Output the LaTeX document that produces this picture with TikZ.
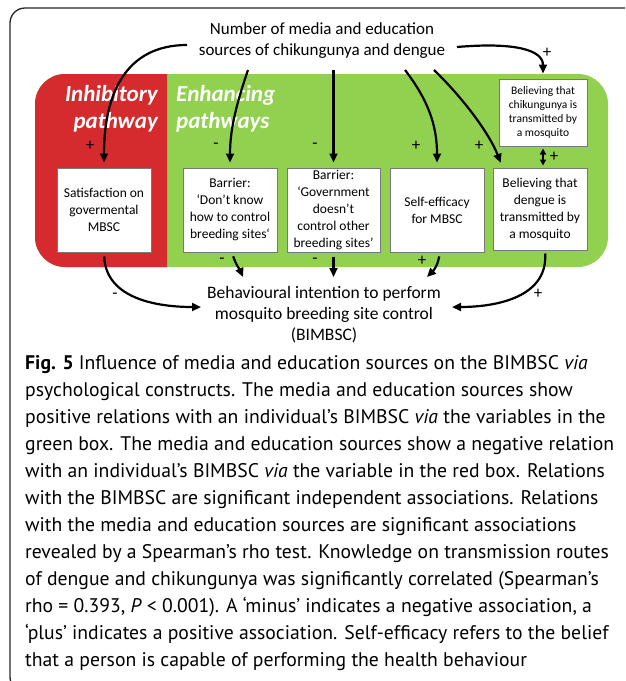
\documentclass[tikz,border=0pt]{standalone}
\usepackage{fontspec}
\setmainfont{Carlito}
\newfontfamily\capfont{PT Sans}
\usetikzlibrary{arrows.meta, positioning, calc}
\definecolor{inhibred}{RGB}{213,43,46}
\definecolor{enhgreen}{RGB}{146,208,80}
\definecolor{boxgray}{RGB}{120,120,120}
\newlength\caplinewd
\tikzset{
  construct/.style={draw=boxgray, line width=1pt, fill=white, align=center, inner sep=1pt,
    minimum width=94pt, minimum height=84pt, font=\fontsize{13.5}{17}\selectfont},
  link/.style={-{Triangle[length=9pt, width=8pt]}, line width=2.2pt},
  sign/.style={font=\fontsize{17}{17}\selectfont, inner sep=0pt},
  pathlabel/.style={text=white, inner sep=0pt, font=\fontsize{23}{27}\selectfont\bfseries\itshape}
}

\begin{document}
% taille de la legende : la ligne la plus longue fait 589pt
\settowidth\caplinewd{\capfont\fontsize{10}{12}\selectfont green box. The media and education sources show a negative relation}
\pgfmathsetmacro\capsize{5890/\caplinewd}
\begin{tikzpicture}[x=1pt, y=-1pt]
    \useasboundingbox (0,0) rectangle (625,681);
    \clip (0,0) rectangle (625,681);

    % === CADRE ===
    \draw[line width=1.3pt, draw=black!85, rounded corners=15pt] (10,8) rectangle (660,692);

    % === FOND VERT / ROUGE ===
    \fill[enhgreen, rounded corners=30pt] (35,74) rectangle (608,267);
    \begin{scope}
        \clip (0,0) rectangle (167,681);
        \fill[inhibred, rounded corners=30pt] (35,74) rectangle (608,267);
    \end{scope}

    \node[pathlabel, align=right, anchor=north east] (inhib) at (158,85) {Inhibitory\\pathway};
    \node[pathlabel, align=left, anchor=north west] (enh) at (176,85) {Enhancing\\pathways};

    % === SOURCE ===
    \node[font=\fontsize{17}{21}\selectfont, align=center, inner sep=0pt] (src) at (322,41)
        {Number of media and education\\sources of chikungunya and dengue};

    % === CONSTRUITS ===
    \node[construct] (sat) at (104,210) {Satisfaction on\\govermental\\MBSC};
    \node[construct] (bar1) at (230,210) {Barrier:\\‘Don’t know\\how to control\\breeding sites‘};
    \node[construct, minimum width=93pt] (bar2) at (333.5,210) {Barrier:\\‘Government\\doesn’t\\control other\\breeding sites’};
    \node[construct] (self) at (437,210) {Self-efficacy\\for MBSC};
    \node[construct, minimum height=82pt] (dengue) at (540,209) {Believing that\\dengue is\\transmitted by\\a mosquito};
    \node[construct, minimum width=88pt, minimum height=67pt, font=\fontsize{11.5}{14}\selectfont] (chik) at (543,112.5)
        {Believing that\\chikungunya is\\transmitted by\\a mosquito};

    % === INTENTION ===
    \node[font=\fontsize{17.5}{21}\selectfont, align=center, inner sep=0pt] (bim) at (324,315)
        {Behavioural intention to perform\\mosquito breeding site control\\(BIMBSC)};

    % points de depart / d'arrivee
    \coordinate (s1) at (187,45);
    \coordinate (s2) at (248,70);
    \coordinate (s3) at (333.5,70);
    \coordinate (s4) at (405,70);
    \coordinate (s5) at (434,70);
    \coordinate (s6) at (457,47);
    \coordinate (t1) at (201,307);
    \coordinate (t2) at (243,277);
    \coordinate (t3) at (333.5,277);
    \coordinate (t4) at (427,277);
    \coordinate (t5) at (452,307);

    % === FLECHES DU HAUT ===
    \draw[link, shorten >=5pt] (s1) .. controls (125,45) and (104,95) .. (sat.north);
    \draw[link, shorten >=5pt] (s2) .. controls (236,105) and (230,130) .. (bar1.north);
    \draw[link, shorten >=5pt] (s3) -- (bar2.north);
    \draw[link, shorten >=5pt] (s4) .. controls (428,100) and (437,125) .. (self.north);
    \draw[link, shorten >=5pt] (s5) .. controls (465,100) and (490,135) .. ([xshift=10pt]dengue.north west);
    \draw[link, shorten >=5pt] (s6) .. controls (515,42) and (543,50) .. (chik.north);
    \draw[{Triangle[length=6pt, width=6pt]}-{Triangle[length=6pt, width=6pt]}, line width=1.8pt,
        shorten <=2pt, shorten >=2pt] (chik.south) -- (chik.south |- dengue.north);

    % === FLECHES DU BAS ===
    \draw[link, shorten <=4pt] (sat.south) .. controls (106,300) and (160,307) .. (t1);
    \draw[link, shorten <=4pt] ([xshift=2pt]bar1.south) .. controls (236,265) and (240,270) .. (t2);
    \draw[link, shorten <=4pt] (bar2.south) -- (t3);
    \draw[link, shorten <=4pt] ([xshift=3pt]self.south) .. controls (437,268) and (432,272) .. (t4);
    \draw[link, shorten <=3pt] ([xshift=5pt]dengue.south) .. controls (548,300) and (490,307) .. (t5);

    % signes
    \node[sign] (p1) at (90,146) {+};
    \node[sign] (m1) at (216,146) {-};
    \node[sign] (m2) at (315,146) {-};
    \node[sign] (p2) at (416,146) {+};
    \node[sign] (p3) at (479,146) {+};
    \node[sign] (p4) at (547,53) {+};
    \node[sign] (p5) at (554,157) {+};
    \node[sign] (m3) at (115,296) {-};
    \node[sign] (m4) at (222,261) {-};
    \node[sign] (m5) at (315,261) {-};
    \node[sign] (p6) at (422,261) {+};
    \node[sign] (p7) at (538,294) {+};

    % === LEGENDE ===
    \node[anchor=north west, inner sep=0pt, align=left, font={\capfont\fontsize{\capsize pt}{27pt}\selectfont}] (cap) at (25,355)
        {\textbf{Fig. 5} Influence of media and education sources on the BIMBSC \textit{via}\\
         psychological constructs. The media and education sources show\\
         positive relations with an individual’s BIMBSC \textit{via} the variables in the\\
         green box. The media and education sources show a negative relation\\
         with an individual’s BIMBSC \textit{via} the variable in the red box. Relations\\
         with the BIMBSC are significant independent associations. Relations\\
         with the media and education sources are significant associations\\
         revealed by a Spearman’s rho test. Knowledge on transmission routes\\
         of dengue and chikungunya was significantly correlated (Spearman’s\\
         rho = 0.393, \textit{P} < 0.001). A ‘minus’ indicates a negative association, a\\
         ‘plus’ indicates a positive association. Self-efficacy refers to the belief\\
         that a person is capable of performing the health behaviour};

\end{tikzpicture}
\end{document}
